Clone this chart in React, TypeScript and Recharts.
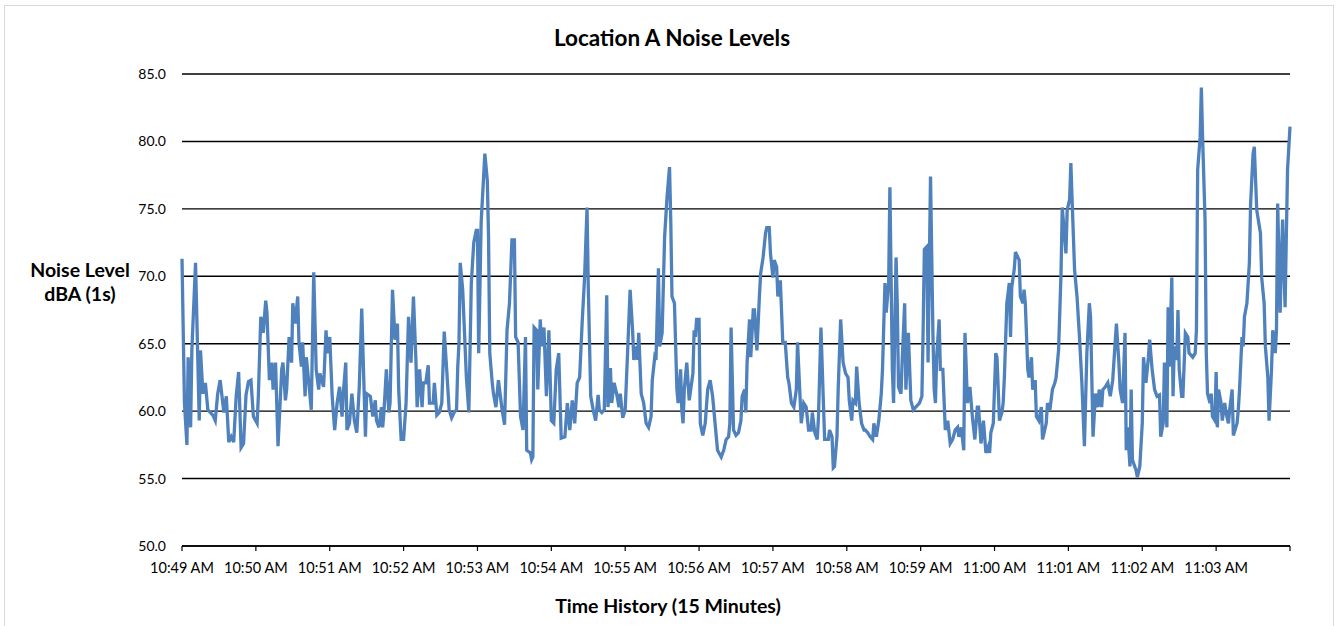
import React from "react";
import { LineChart, Line, XAxis, YAxis, CartesianGrid } from "recharts";

// seconds after 10:49:00 AM
const seconds: number[] = [
  0, 2, 4, 5, 7, 8, 11, 14, 15, 17, 19, 21, 25, 27, 29, 31, 34, 36, 38, 40, 42, 44, 46, 48, 50, 52, 54, 56, 58, 61, 62, 64, 66, 68, 69, 71, 73, 74, 76, 78,
  81, 82, 84, 85, 87, 89, 90, 92, 94, 95, 97, 98, 100, 101, 103, 105, 107, 109, 111, 112, 115, 117, 118, 120, 122, 124, 126, 128, 130, 131, 133, 134, 136, 138, 140, 142, 144, 146, 149, 150, 153, 155, 157, 158, 160,
  162, 163, 164, 166, 168, 169, 171, 173, 175, 176, 178, 180, 182, 184, 186, 188, 190, 191, 193, 195, 196, 198, 200, 201, 204, 205, 207, 209, 211, 213, 215, 217, 219, 221, 223, 224, 225, 226, 228, 231, 233, 235, 237, 239, 240,
  241, 243, 246, 248, 249, 250, 252, 253, 255, 257, 260, 262, 264, 266, 268, 270, 271, 273, 275, 277, 279, 280, 283, 284, 285, 286, 288, 289, 291, 292, 294, 296, 298, 300, 302, 304, 306, 308, 311, 313, 315, 317, 319, 321,
  323, 325, 327, 329, 330, 332, 334, 336, 338, 339, 341, 343, 345, 346, 348, 349, 351, 353, 355, 356, 358, 360, 362, 364, 366, 367, 369, 370, 371, 373, 375, 377, 379, 381, 382, 384, 385, 387, 388, 390, 392, 394, 396, 397, 398, 400, 402, 403, 405,
  406, 407, 408, 410, 412, 415, 416, 417, 418, 420, 421, 423, 425, 427, 429, 431, 434, 435, 438, 440, 442, 444, 445, 446, 448, 450, 452, 454, 455, 457, 458, 459, 461, 462, 464, 465, 467, 469, 470, 472, 474, 475, 477, 478, 480, 481, 483, 484, 486,
  488, 490, 492, 493, 495, 497, 499, 500, 502, 503, 505, 507, 509, 511, 512, 514, 516, 517, 519, 521, 522, 525, 526, 528, 529, 530, 532, 533, 535, 537, 539, 541, 542, 544, 545, 547, 548, 550, 552, 554, 555, 557, 559, 561, 562, 564, 566,
  568, 569, 571, 572, 574, 575, 577, 578, 580, 581, 582, 584, 585, 587, 588, 590, 592, 594, 596, 599, 601, 602, 603, 605, 606, 608, 610, 611, 612, 613, 615, 616, 618, 620, 622, 624, 626, 628, 630, 631, 633, 635, 636, 638, 640, 642, 644, 646, 647,
  649, 651, 653, 655, 656, 657, 659, 661, 662, 664, 666, 667, 668, 670, 672, 673, 674, 676, 677, 679, 680, 681, 683, 684, 685, 687, 688, 690, 691, 693, 694, 696, 698, 699, 702, 703, 705, 707, 709, 710, 712, 714, 715, 716, 718, 719, 721, 722, 723, 725, 727, 729, 731,
  733, 735, 737, 738, 740, 742, 744, 745, 747, 748, 750, 752, 754, 756, 758, 759, 761, 762, 764, 766, 767, 768, 770, 771, 772, 775, 776, 778, 780, 781, 783, 785, 786, 788, 790, 792, 794, 795, 797, 798, 800, 801, 802, 804, 805, 806, 808, 809, 810,
  812, 813, 815, 817, 818, 821, 823, 824, 825, 827, 828, 829, 831, 832, 833, 835, 836, 837, 839, 840, 841, 842, 844, 845, 847, 848, 850, 851, 853, 854, 857, 858, 859, 861, 862, 863, 865, 867, 868, 870, 871, 873, 876, 877, 879, 880, 882, 883, 885, 886, 888, 889, 890, 892, 893, 894, 896, 897, 898, 900,
];

// Noise level dBA (1s)
const levels: number[] = [
  71.3, 60.6, 57.5, 64.0, 58.8, 64.5, 71.0, 59.3, 64.5, 61.3, 62.1, 60.1, 59.7, 59.3, 61.3, 62.3, 59.9, 61.1, 57.7, 58.1, 57.7, 61.1, 62.9, 57.3, 57.6, 61.2, 62.2, 62.3, 59.6, 59.1, 61.1, 67.0, 65.8, 68.2, 67.3, 62.3, 63.6, 61.6, 63.6, 57.4,
  63.1, 63.6, 60.8, 61.6, 65.5, 63.6, 68.0, 66.5, 68.5, 65.1, 63.3, 65.1, 61.1, 64.0, 62.1, 60.1, 70.3, 63.1, 61.6, 62.8, 61.8, 66.0, 64.3, 65.5, 61.1, 58.6, 60.6, 61.8, 59.6, 61.3, 63.6, 58.6, 59.1, 61.3, 59.3, 58.4, 61.8, 67.6, 58.1, 61.3, 61.1, 59.6, 60.8, 59.3, 58.8,
  60.3, 58.8, 59.9, 63.1, 59.9, 60.6, 69.0, 65.3, 66.5, 61.6, 57.9, 57.9, 60.6, 67.0, 63.6, 68.5, 63.8, 60.3, 63.1, 60.3, 62.1, 62.1, 63.4, 60.6, 60.6, 62.1, 59.7, 59.9, 60.6, 65.9, 63.1, 60.1, 59.5, 59.9, 60.1, 63.3, 65.1, 71.0, 69.0, 62.5, 59.9, 69.5, 72.5, 73.4, 73.4,
  64.3, 74.0, 79.1, 77.1, 72.9, 64.3, 62.1, 61.3, 60.3, 62.3, 60.1, 59.0, 66.0, 68.0, 72.7, 72.7, 65.5, 65.1, 59.6, 58.6, 65.5, 57.1, 56.9, 56.4, 56.6, 66.2, 66.0, 61.6, 66.8, 64.8, 66.2, 61.1, 66.0, 59.3, 59.1, 63.1, 64.3, 58.0, 58.1, 60.6, 58.6, 60.8, 59.1, 62.1,
  62.5, 66.5, 69.9, 75.1, 69.2, 61.1, 60.1, 59.3, 61.2, 60.1, 59.9, 60.1, 68.6, 60.3, 63.2, 60.6, 62.1, 61.3, 60.3, 61.3, 59.5, 60.1, 64.5, 69.0, 66.0, 63.8, 64.8, 63.8, 65.8, 61.3, 60.6, 59.1, 58.8, 59.6, 62.3, 64.0, 63.8, 70.6, 64.8, 65.8, 72.9, 75.9, 78.1, 74.2, 68.5, 68.0, 61.6, 60.6, 63.1,
  60.1, 59.1, 61.6, 63.6, 60.8, 62.8, 66.0, 65.5, 66.8, 66.8, 59.1, 58.2, 59.1, 61.6, 62.3, 61.1, 58.1, 57.1, 56.6, 57.1, 57.9, 58.1, 59.1, 66.2, 58.6, 58.2, 58.4, 59.3, 61.1, 61.6, 59.9, 63.6, 66.8, 64.0, 67.5, 67.5, 64.5, 68.5, 70.2, 71.4, 73.2, 73.6, 73.6, 71.7, 69.9, 71.2, 70.7, 68.5, 69.7,
  65.1, 65.1, 62.5, 62.1, 60.6, 60.3, 61.6, 65.1, 61.1, 59.1, 60.6, 60.3, 58.6, 58.6, 59.9, 58.4, 57.9, 59.6, 66.2, 60.6, 57.9, 57.9, 58.6, 58.1, 55.8, 55.9, 58.1, 61.6, 66.8, 63.6, 62.8, 62.5, 60.8, 59.3, 60.8, 60.6, 63.3, 60.6, 59.1, 58.6, 58.6, 58.4, 58.1, 57.9, 59.1, 58.1, 59.3,
  61.3, 63.1, 69.5, 67.3, 69.5, 76.6, 63.1, 60.6, 71.4, 68.0, 61.8, 61.3, 63.8, 68.0, 61.6, 65.8, 60.8, 60.1, 60.3, 60.6, 61.1, 66.0, 72.0, 72.2, 63.6, 77.4, 65.5, 61.6, 60.6, 64.0, 66.8, 63.1, 63.1, 58.6, 59.3, 57.6, 57.9, 58.6, 58.8, 58.1, 58.8, 57.1, 65.8, 60.6, 61.8, 59.6, 57.9, 60.3, 60.3,
  57.6, 59.3, 56.9, 57.4, 56.9, 58.4, 59.1, 64.3, 64.0, 59.3, 59.9, 60.6, 62.5, 68.0, 69.5, 65.5, 69.2, 70.5, 71.8, 71.4, 71.2, 68.5, 68.0, 69.0, 68.0, 63.1, 62.5, 64.0, 61.6, 62.3, 59.6, 59.3, 60.3, 57.9, 59.1, 60.6, 60.1, 61.6, 62.1, 62.5, 64.5, 70.2, 75.1, 74.0, 71.7, 74.9, 75.7, 78.4, 75.7, 70.5, 68.5, 65.5, 62.0,
  57.4, 64.3, 68.0, 67.0, 58.1, 61.3, 60.3, 61.6, 60.3, 61.6, 61.8, 62.1, 61.1, 62.3, 65.1, 66.5, 63.6, 61.6, 60.6, 65.8, 57.1, 58.8, 55.9, 61.6, 56.4, 55.6, 55.1, 55.9, 59.1, 64.0, 62.1, 64.0, 65.3, 63.1, 61.6, 61.1, 61.2, 58.1, 59.1, 63.6, 58.8, 67.7, 63.3, 69.9, 61.1, 64.8, 63.8, 67.5, 63.1,
  61.1, 61.1, 65.8, 65.5, 64.3, 64.0, 64.3, 66.0, 77.9, 80.3, 84.0, 80.3, 74.2, 64.3, 61.3, 60.6, 61.3, 59.6, 59.3, 62.9, 58.8, 61.6, 60.6, 59.3, 60.6, 59.9, 59.1, 60.1, 61.6, 58.2, 59.1, 60.1, 61.6, 65.5, 64.8, 67.0, 68.0, 71.0, 75.4, 79.1, 79.6, 74.9, 73.2, 69.9, 68.0, 64.8, 62.5, 59.3, 63.1, 66.0, 64.3, 66.0, 75.4, 67.3, 71.0, 74.2, 67.7, 72.9, 77.9, 81.1,
];

const yTicks: number[] = [50, 55, 60, 65, 70, 75, 80, 85];
const xTicks: number[] = [0, 60, 120, 180, 240, 300, 360, 420, 480, 540, 600, 660, 720, 780, 840, 900];
const xLabels: string[] = [
  "10:49 AM", "10:50 AM", "10:51 AM", "10:52 AM", "10:53 AM", "10:54 AM", "10:55 AM", "10:56 AM",
  "10:57 AM", "10:58 AM", "10:59 AM", "11:00 AM", "11:01 AM", "11:02 AM", "11:03 AM", "",
];

const data = seconds.map((t, i) => ({ t, v: levels[i] }));

const FONT = "Lato, 'Open Sans', sans-serif";

export default function App() {
  return (
    <div
      style={{
        position: "absolute",
        left: 0,
        top: 0,
        width: 1339,
        height: 626,
        overflow: "hidden",
        background: "#fff",
        fontFamily: FONT,
      }}
    >
      <div
        style={{
          position: "absolute",
          left: 4,
          top: 5,
          width: 1330,
          height: 700,
          border: "1px solid #d9d9d9",
          boxSizing: "border-box",
        }}
      />
      <LineChart
        width={1339}
        height={626}
        data={data}
        margin={{ top: 74, right: 49, bottom: 50, left: 0 }}
        style={{ position: "absolute", left: 0, top: 0 }}
      >
        <CartesianGrid vertical={false} stroke="#000" strokeWidth={1.4} />
        <XAxis
          dataKey="t"
          type="number"
          domain={[0, 900]}
          ticks={xTicks}
          interval={0}
          tickFormatter={(v: number) => xLabels[xTicks.indexOf(v)] ?? ""}
          axisLine={{ stroke: "#000", strokeWidth: 1.5 }}
          tickLine={{ stroke: "#000", strokeWidth: 1.2 }}
          tickSize={5}
          tickMargin={12}
          height={30}
          tick={{ fill: "#000", fontSize: 14.5, fontFamily: FONT }}
        />
        <YAxis
          type="number"
          domain={[50, 85]}
          ticks={yTicks}
          interval={0}
          width={182}
          axisLine={false}
          tickLine={false}
          tickSize={6}
          tickMargin={10}
          tickFormatter={(v: number) => v.toFixed(1)}
          tick={{ fill: "#000", fontSize: 14, fontFamily: FONT }}
        />
        <Line
          type="linear"
          dataKey="v"
          stroke="#4F81BD"
          strokeWidth={3.3}
          dot={false}
          isAnimationActive={false}
        />
      </LineChart>
      <div
        style={{
          position: "absolute",
          left: 422,
          width: 500,
          top: 24,
          textAlign: "center",
          fontWeight: 700,
          fontSize: 22.5,
          color: "#000",
          lineHeight: "28px",
        }}
      >
        Location A Noise Levels
      </div>
      <div
        style={{
          position: "absolute",
          left: 0,
          width: 160,
          top: 258,
          textAlign: "center",
          fontWeight: 700,
          fontSize: 19.5,
          color: "#000",
          lineHeight: "24px",
        }}
      >
        Noise Level
        <br />
        dBA (1s)
      </div>
      <div
        style={{
          position: "absolute",
          left: 418,
          width: 500,
          top: 593,
          textAlign: "center",
          fontWeight: 700,
          fontSize: 19.5,
          color: "#000",
          lineHeight: "26px",
        }}
      >
        Time History (15 Minutes)
      </div>
    </div>
  );
}
